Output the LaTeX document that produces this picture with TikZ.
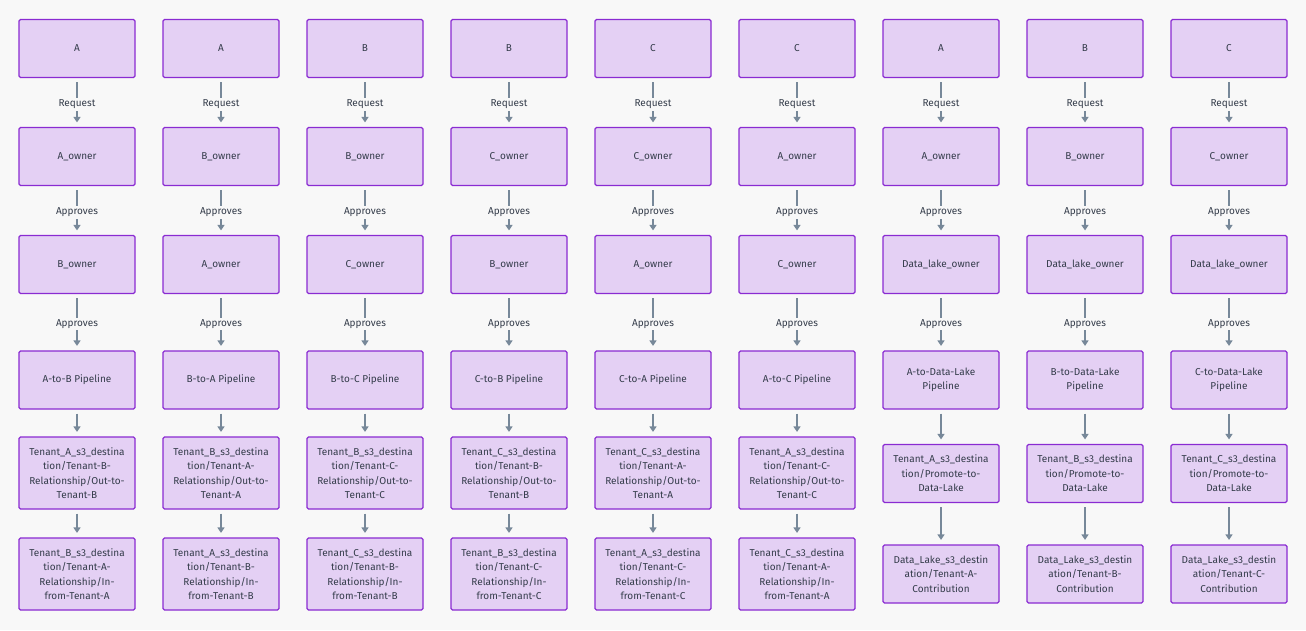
\documentclass[tikz,border=0pt]{standalone}
\usepackage{fontspec}
\setmainfont{Fira Sans}
\usetikzlibrary{arrows.meta}
\definecolor{bg}{HTML}{F8F8F8}
\definecolor{boxfill}{HTML}{E4D0F4}
\definecolor{boxline}{HTML}{8A2BD2}
\definecolor{arrowc}{HTML}{778899}
\definecolor{txt}{HTML}{343C4A}
\tikzset{
  box/.style={draw=boxline, fill=boxfill, line width=1.2pt, rounded corners=1.5pt,
    minimum width=116pt, inner sep=2pt, text=txt, align=center,
    font=\fontsize{10pt}{14.4pt}\selectfont},
  sbox/.style={box, minimum height=58pt},
  tbox/.style={box, minimum height=72pt},
  conn/.style={draw=arrowc, line width=2pt, -{Triangle[width=7pt,length=5.5pt]},
    shorten <=4pt, shorten >=4.5pt},
  lab/.style={fill=bg, text=txt, inner sep=1.5pt, yshift=-2pt, font=\fontsize{10pt}{11pt}\selectfont}
}
\begin{document}
\begin{tikzpicture}[x=1pt,y=-1pt]
\fill[bg] (0,0) rectangle (1306,630);
\useasboundingbox (0,0) rectangle (1306,630);
% columns 1-6
\foreach \i/\a/\b/\c/\p/\o [count=\k from 0] in {
  A/A\_owner/B\_owner/A-to-B Pipeline/{Tenant\_A\_s3\_destina\\tion/Tenant-B-\\Relationship/Out-to-\\Tenant-B}/{Tenant\_B\_s3\_destina\\tion/Tenant-A-\\Relationship/In-\\from-Tenant-A},
  A/B\_owner/A\_owner/B-to-A Pipeline/{Tenant\_B\_s3\_destina\\tion/Tenant-A-\\Relationship/Out-to-\\Tenant-A}/{Tenant\_A\_s3\_destina\\tion/Tenant-B-\\Relationship/In-\\from-Tenant-B},
  B/B\_owner/C\_owner/B-to-C Pipeline/{Tenant\_B\_s3\_destina\\tion/Tenant-C-\\Relationship/Out-to-\\Tenant-C}/{Tenant\_C\_s3\_destina\\tion/Tenant-B-\\Relationship/In-\\from-Tenant-B},
  B/C\_owner/B\_owner/C-to-B Pipeline/{Tenant\_C\_s3\_destina\\tion/Tenant-B-\\Relationship/Out-to-\\Tenant-B}/{Tenant\_B\_s3\_destina\\tion/Tenant-C-\\Relationship/In-\\from-Tenant-C},
  C/C\_owner/A\_owner/C-to-A Pipeline/{Tenant\_C\_s3\_destina\\tion/Tenant-A-\\Relationship/Out-to-\\Tenant-A}/{Tenant\_A\_s3\_destina\\tion/Tenant-C-\\Relationship/In-\\from-Tenant-C},
  C/A\_owner/C\_owner/A-to-C Pipeline/{Tenant\_A\_s3\_destina\\tion/Tenant-C-\\Relationship/Out-to-\\Tenant-C}/{Tenant\_C\_s3\_destina\\tion/Tenant-A-\\Relationship/In-\\from-Tenant-A}} {
  \pgfmathsetmacro{\cx}{77+144*\k}
  \node[sbox] (r1c\k) at (\cx,48.5) {\i};
  \node[sbox] (r2c\k) at (\cx,156.5) {\a};
  \node[sbox] (r3c\k) at (\cx,264.5) {\b};
  \node[sbox] (r4c\k) at (\cx,380) {\c};
  \node[tbox] (r5c\k) at (\cx,473) {\p};
  \node[tbox] (r6c\k) at (\cx,574) {\o};
  \draw[conn] (r1c\k) -- node[lab] {Request} (r2c\k);
  \draw[conn] (r2c\k) -- node[lab] {Approves} (r3c\k);
  \draw[conn] (r3c\k) -- node[lab] {Approves} (r4c\k);
  \draw[conn] (r4c\k) -- (r5c\k);
  \draw[conn] (r5c\k) -- (r6c\k);
}
% columns 7-9
\foreach \i/\a/\c/\p/\o [count=\k from 6] in {
  A/A\_owner/{A-to-Data-Lake\\Pipeline}/{Tenant\_A\_s3\_destina\\tion/Promote-to-\\Data-Lake}/{Data\_Lake\_s3\_destin\\ation/Tenant-A-\\Contribution},
  B/B\_owner/{B-to-Data-Lake\\Pipeline}/{Tenant\_B\_s3\_destina\\tion/Promote-to-\\Data-Lake}/{Data\_Lake\_s3\_destin\\ation/Tenant-B-\\Contribution},
  C/C\_owner/{C-to-Data-Lake\\Pipeline}/{Tenant\_C\_s3\_destina\\tion/Promote-to-\\Data-Lake}/{Data\_Lake\_s3\_destin\\ation/Tenant-C-\\Contribution}} {
  \pgfmathsetmacro{\cx}{77+144*\k}
  \node[sbox] (r1c\k) at (\cx,48.5) {\i};
  \node[sbox] (r2c\k) at (\cx,156.5) {\a};
  \node[sbox] (r3c\k) at (\cx,264.5) {Data\_lake\_owner};
  \node[sbox] (r4c\k) at (\cx,380) {\c};
  \node[sbox] (r5c\k) at (\cx,473.5) {\p};
  \node[sbox] (r6c\k) at (\cx,574) {\o};
  \draw[conn] (r1c\k) -- node[lab] {Request} (r2c\k);
  \draw[conn] (r2c\k) -- node[lab] {Approves} (r3c\k);
  \draw[conn] (r3c\k) -- node[lab] {Approves} (r4c\k);
  \draw[conn] (r4c\k) -- (r5c\k);
  \draw[conn] (r5c\k) -- (r6c\k);
}
\end{tikzpicture}
\end{document}
